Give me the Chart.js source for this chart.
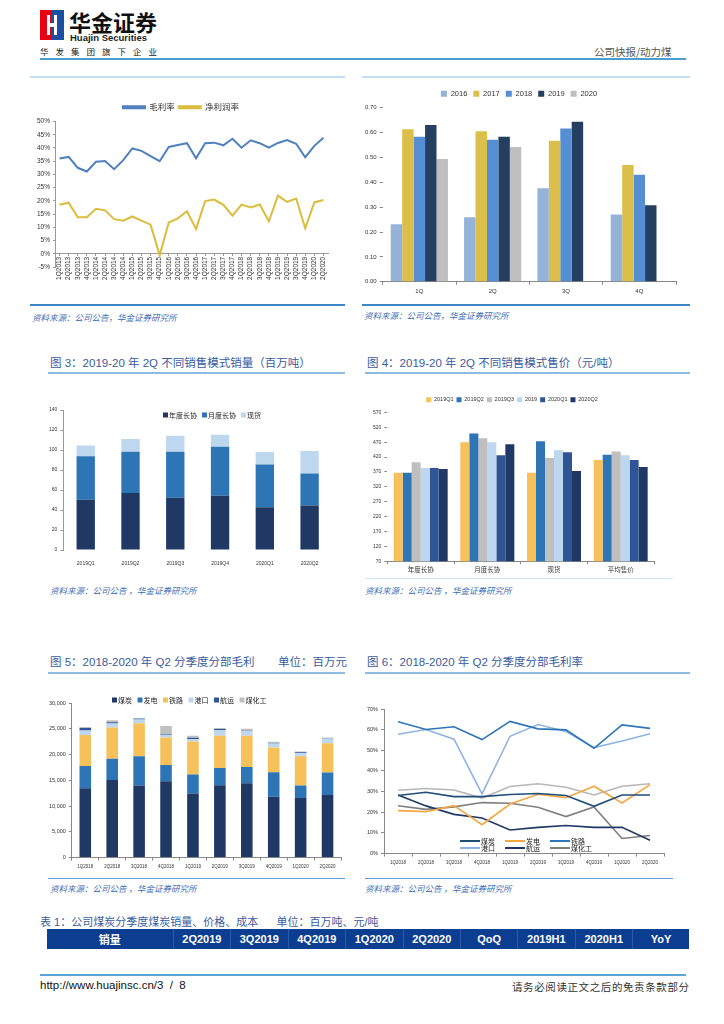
<!DOCTYPE html>
<html>
<head>
<meta charset="utf-8">
<script src="https://cdn.jsdelivr.net/npm/chart.js@4.4.0/dist/chart.umd.min.js"></script>
<style>
body{margin:0;width:724px;height:1024px;position:relative;background:#fff;overflow:hidden;font-family:"Liberation Sans","Noto Sans CJK SC",sans-serif}
.abs{position:absolute}
.title{position:absolute;font-size:11.5px;color:#3a5b9e;font-family:"Liberation Sans","Noto Sans CJK SC",sans-serif;white-space:nowrap}
.uline{position:absolute;height:2px;background:#8dbbe2}
.src{position:absolute;font-size:8.5px;color:#3e6db5;font-style:italic;font-family:"Noto Sans CJK SC",sans-serif;white-space:nowrap}
.box{position:absolute}
table{border-collapse:collapse}
td{color:#fff;font-weight:bold;font-size:11px;text-align:center;padding:0;border-right:1px solid #2c5aa8}
</style>
</head>
<body>
<!-- header -->
<div class="abs" style="left:40px;top:10px;width:12px;height:30px;background:#e60012"></div>
<div class="abs" style="left:52px;top:10px;width:12px;height:30px;background:#1d4fa0"></div>
<div class="abs" style="left:47px;top:15px;width:3px;height:20px;background:#fff"></div>
<div class="abs" style="left:54px;top:15px;width:3px;height:20px;background:#fff"></div>
<div class="abs" style="left:50px;top:23px;width:4px;height:4px;background:#fff"></div>
<div class="abs" style="left:69px;top:10px;font-size:22px;line-height:22px;font-weight:bold;color:#111;font-family:'Noto Sans CJK SC'">华金证券</div>
<div class="abs" style="left:70px;top:33px;font-size:9.5px;line-height:10px;font-weight:bold;color:#222">Huajin Securities</div>
<div class="abs" style="left:40px;top:45px;font-size:8.5px;color:#222;font-family:'Noto Sans CJK SC';letter-spacing:7px">华发集团旗下企业</div>
<div class="abs" style="left:594px;top:44px;font-size:10.5px;color:#555;font-family:'Noto Sans CJK SC'">公司快报/动力煤</div>
<div class="abs" style="left:40px;top:58px;width:646px;height:2px;background:#4a9fd0"></div>

<!-- row 1 -->
<div class="abs" style="left:30px;top:76px;width:315px;height:2px;background:#c3ddf1"></div>
<div class="abs" style="left:362px;top:76px;width:328px;height:2px;background:#c3ddf1"></div>
<div class="box" style="left:30px;top:99px;width:310px;height:194px"><canvas id="c1"></canvas></div>
<div class="box" style="left:362px;top:84px;width:322px;height:214px"><canvas id="c2"></canvas></div>
<div class="abs" style="left:30px;top:304px;width:315px;height:2px;background:#3f86c8"></div>
<div class="abs" style="left:362px;top:304px;width:328px;height:2px;background:#3f86c8"></div>
<div class="src" style="left:32px;top:311px">资料来源：公司公告，华金证券研究所</div>
<div class="src" style="left:364px;top:309px">资料来源：公司公告，华金证券研究所</div>

<!-- row 2 -->
<div class="title" style="left:50px;top:354px">图 3：2019-20 年 2Q 不同销售模式销量（百万吨）</div>
<div class="title" style="left:367px;top:354px">图 4：2019-20 年 2Q 不同销售模式售价（元/吨）</div>
<div class="uline" style="left:48px;top:372px;width:297px"></div>
<div class="uline" style="left:365px;top:372px;width:325px"></div>
<div class="box" style="left:40px;top:404px;width:300px;height:166px"><canvas id="c3"></canvas></div>
<div class="box" style="left:362px;top:394px;width:320px;height:180px"><canvas id="c4"></canvas></div>
<div class="abs" style="left:365px;top:578px;width:308px;height:1px;background:#cfe2f3"></div>
<div class="src" style="left:50px;top:584px">资料来源：公司公告 ，华金证券研究所</div>
<div class="src" style="left:365px;top:584px">资料来源：公司公告 ，华金证券研究所</div>

<!-- row 3 -->
<div class="title" style="left:50px;top:653px">图 5：2018-2020 年 Q2 分季度分部毛利</div>
<div class="title" style="left:278px;top:653px">单位：百万元</div>
<div class="title" style="left:367px;top:653px">图 6：2018-2020 年 Q2 分季度分部毛利率</div>
<div class="uline" style="left:48px;top:672px;width:297px"></div>
<div class="uline" style="left:365px;top:672px;width:325px"></div>
<div class="box" style="left:40px;top:694px;width:305px;height:178px"><canvas id="c5"></canvas></div>
<div class="box" style="left:362px;top:700px;width:310px;height:168px"><canvas id="c6"></canvas></div>
<div class="abs" style="left:48px;top:878px;width:297px;height:1px;background:#5b9bd5"></div>
<div class="abs" style="left:365px;top:878px;width:308px;height:1px;background:#5b9bd5"></div>
<div class="src" style="left:50px;top:882px">资料来源：公司公告 ，华金证券研究所</div>
<div class="src" style="left:365px;top:882px">资料来源：公司公告 ，华金证券研究所</div>

<!-- table -->
<div class="title" style="left:40px;top:913px;font-size:11px">表 1：公司煤炭分季度煤炭销量、价格、成本&nbsp;&nbsp;&nbsp;&nbsp;&nbsp;&nbsp;单位：百万吨、元/吨</div>
<table class="abs" style="left:47px;top:929px;width:642px;height:20px;background:#0b3d91">
<tr id="thead"></tr>
</table>

<!-- footer -->
<div class="abs" style="left:40px;top:974px;width:646px;height:2px;background:#5aa5d8"></div>
<div class="abs" style="left:40px;top:979px;font-size:11.5px;color:#111">http://www.huajinsc.cn/3&nbsp;&nbsp;/&nbsp;&nbsp;8</div>
<div class="abs" style="left:512px;top:979px;font-size:10.5px;color:#333;font-family:'Noto Sans CJK SC';letter-spacing:0.6px">请务必阅读正文之后的免责条款部分</div>

<script>
// chart 1: margins
const quarters1 = ["1Q2013","2Q2013","3Q2013","4Q2013","1Q2014","2Q2014","3Q2014","4Q2014","1Q2015","2Q2015","3Q2015","4Q2015","1Q2016","2Q2016","3Q2016","4Q2016","1Q2017","2Q2017","3Q2017","4Q2017","1Q2018","2Q2018","3Q2018","4Q2018","1Q2019","2Q2019","3Q2019","4Q2019","1Q2020","2Q2020"];
const grossMargin = [36.0,36.6,32.5,31.1,34.8,35.1,32.0,35.4,39.8,38.9,36.9,35.0,40.4,41.1,41.8,36.1,41.8,42.0,41.0,43.5,40.1,42.9,41.8,40.1,41.9,43.0,41.6,36.5,40.8,43.9];
const netMargin = [18.5,19.3,13.8,13.8,17.0,16.4,13.1,12.5,14.1,12.5,11.0,-0.6,11.8,13.4,16.1,9.4,19.9,20.5,18.5,14.4,18.6,17.5,18.6,12.3,22.0,19.6,20.9,9.6,19.4,20.3];

// chart 2
const quarters2 = ["1Q","2Q","3Q","4Q"];
const years2 = ["2016","2017","2018","2019","2020"];
const vals2016 = [0.231,0.259,0.376,0.270];
const vals2017 = [0.613,0.605,0.566,0.469];
const vals2018 = [0.583,0.570,0.616,0.430];
const vals2019 = [0.630,0.583,0.643,0.307];
const vals2020 = [0.493,0.541,null,null];

// chart 3: volume by sales mode
const periods3 = ["2019Q1","2019Q2","2019Q3","2019Q4","2020Q1","2020Q2"];
const annualVol = [50.3,57.0,52.3,54.3,42.7,44.4];
const monthlyVol = [43.4,41.3,46.0,49.0,42.7,32.1];
const spotVol = [10.9,12.6,15.9,11.9,12.6,22.5];

// chart 4: price by sales mode
const modes4 = ["年度长协","月度长协","现货","平均售价"];
const series4 = ["2019Q1","2019Q2","2019Q3","2019","2020Q1","2020Q2"];
const price19q1 = [367,470,367,410];
const price19q2 = [367,499.5,473,427.7];
const price19q3 = [403,483,416.7,438.7];
const price19q4 = [383.5,470,443,426.6];
const price20q1 = [383.5,426.6,436.5,410];
const price20q2 = [380,463,373.6,387];

// chart 5: segment gross profit
const quarters5 = ["1Q2018","2Q2018","3Q2018","4Q2018","1Q2019","2Q2019","3Q2019","4Q2019","1Q2020","2Q2020"];
const gpCoal = [13435,15039,13970,14838,12432,14036,14437,11831,11563,12165];
const gpPower = [4345,4144,5681,3142,3676,3342,3142,4745,2407,4344];
const gpRail = [6015,6083,6417,5347,6417,6283,6082,4813,5681,5682];
const gpPort = [869,735,735,535,468,1070,869,735,602,869];
const gpShip = [468,267,201,134,267,200,67,134,201,67];
const gpChem = [200,401,0,1537,401,201,401,200,133,200];

// chart 6: segment gross margin
const gmCoal = [28.1,29.7,27.6,27.6,28.6,29.1,28.1,22.9,28.4,28.4];
const gmPower = [20.8,20.3,23.2,14.0,24.0,28.7,27.1,32.6,24.5,33.4];
const gmRail = [63.8,60.1,61.4,55.2,64.0,60.4,59.9,51.0,62.3,60.6];
const gmPort = [57.8,60.1,55.4,28.9,56.8,62.5,59.1,51.3,54.5,58.0];
const gmShip = [28.4,23.1,19.0,17.2,11.4,12.7,13.6,12.7,12.7,6.5];
const gmChem = [23.2,21.4,22.6,24.7,24.4,22.4,17.9,22.6,7.3,8.8];
const gmTotal = [30.7,31.5,30.8,26.9,32.5,33.8,32.1,28.4,32.6,33.8];

const tableHead = ["销量","2Q2019","3Q2019","4Q2019","1Q2020","2Q2020","QoQ","2019H1","2020H1","YoY"];

let tr = document.getElementById("thead");
for (let i = 0; i < tableHead.length; i++) {
     let td = document.createElement("td");
     td.innerHTML = tableHead[i];
     td.style.width = i == 0 ? "129px" : "57px";
     if (i == tableHead.length - 1) td.style.borderRight = "none";
     tr.appendChild(td);
}

Chart.defaults.font.family = "'Liberation Sans','Noto Sans CJK SC',sans-serif";
Chart.defaults.color = "#333";
Chart.defaults.animation = false;
Chart.defaults.maintainAspectRatio = false;
Chart.defaults.plugins.tooltip.enabled = false;

// legend drawn inside plot (charts 3, 5 and 6)
const innerLegend = {
     id: "innerLegend",
     afterDraw(chart, args, opts) {
          const ctx = chart.ctx;
          const items = chart.data.datasets.filter(d => !d.noLegend);
          ctx.save();
          ctx.font = (opts.size || 7) + "px 'Noto Sans CJK SC'";
          ctx.textBaseline = "middle";
          items.forEach((d, i) => {
               let col = i % opts.cols;
               let row = Math.floor(i / opts.cols);
               let x = opts.x + col * opts.colW;
               let y = opts.y + row * opts.rowH;
               if (opts.kind == "line") {
                    ctx.strokeStyle = d.borderColor;
                    ctx.lineWidth = 2;
                    ctx.beginPath();
                    ctx.moveTo(x, y);
                    ctx.lineTo(x + 20, y);
                    ctx.stroke();
                    ctx.fillStyle = "#222";
                    ctx.fillText(d.label, x + 21, y);
               } else {
                    ctx.fillStyle = d.backgroundColor;
                    ctx.fillRect(x, y - 2.5, 5, 5);
                    ctx.fillStyle = "#222";
                    ctx.fillText(d.label, x + 6, y);
               }
          });
          ctx.restore();
     }
};

const smallFont = {size: 6};

// chart 1
new Chart(document.getElementById("c1"), {
     type: "line",
     data: {
          labels: quarters1,
          datasets: [
               {label: "毛利率", data: grossMargin, borderColor: "#4f81bd", backgroundColor: "#4f81bd", borderWidth: 2, pointRadius: 0},
               {label: "净利润率", data: netMargin, borderColor: "#dcbc3c", backgroundColor: "#dcbc3c", borderWidth: 2, pointRadius: 0}
          ]
     },
     options: {
          layout: {padding: {right: 12, left: 4, bottom: 26}},
          plugins: {
               legend: {labels: {boxWidth: 22, boxHeight: 2, font: {size: 8.5}, color: "#333", padding: 4}}
          },
          scales: {
               x: {
                    position: {y: 0},
                    offset: true,
                    grid: {drawOnChartArea: false, tickLength: 2, color: "#999"},
                    border: {color: "#999"},
                    ticks: {font: {size: 6.5}, minRotation: 90, maxRotation: 90, autoSkip: false, padding: 1}
               },
               y: {
                    min: -5, max: 50,
                    grid: {drawOnChartArea: false, tickLength: 2, color: "#999"},
                    border: {color: "#999"},
                    ticks: {stepSize: 5, font: {size: 6.5}, callback: v => v + "%"}
               }
          }
     }
});

// chart 2
const colors2 = ["#95b3d7", "#dcbf4b", "#558ed5", "#243f60", "#bfbfbf"];
const data2 = [vals2016, vals2017, vals2018, vals2019, vals2020];
new Chart(document.getElementById("c2"), {
     type: "bar",
     data: {
          labels: quarters2,
          datasets: years2.map((y, i) => ({label: y, data: data2[i], backgroundColor: colors2[i], categoryPercentage: 0.78, barPercentage: 1}))
     },
     options: {
          layout: {padding: {right: 8}},
          plugins: {
               legend: {labels: {boxWidth: 6, boxHeight: 6, font: {size: 7.5}, padding: 6}}
          },
          scales: {
               x: {
                    grid: {drawOnChartArea: false, tickLength: 3, color: "#888"},
                    border: {color: "#888"},
                    ticks: {font: smallFont}
               },
               y: {
                    min: 0, max: 0.7,
                    grid: {drawOnChartArea: false, tickLength: 3, color: "#888"},
                    border: {display: false},
                    ticks: {stepSize: 0.1, font: smallFont, callback: v => v.toFixed(2)}
               }
          }
     }
});

// chart 3
const colors3 = ["#1f3864", "#2e75b6", "#bdd7ee"];
const labels3 = ["年度长协", "月度长协", "现货"];
const data3 = [annualVol, monthlyVol, spotVol];
new Chart(document.getElementById("c3"), {
     type: "bar",
     data: {
          labels: periods3,
          datasets: labels3.map((l, i) => ({label: l, data: data3[i], backgroundColor: colors3[i], categoryPercentage: 0.41, barPercentage: 1}))
     },
     plugins: [innerLegend],
     options: {
          layout: {padding: {top: 6, right: 8, left: 6}},
          plugins: {
               legend: {display: false},
               innerLegend: {x: 123, y: 11, cols: 3, colW: 39, rowH: 8, kind: "box", size: 7}
          },
          scales: {
               x: {
                    stacked: true,
                    grid: {display: false},
                    border: {display: false},
                    ticks: {font: {size: 5}}
               },
               y: {
                    stacked: true,
                    min: 0, max: 140,
                    grid: {drawOnChartArea: false, tickLength: 3, color: "#999"},
                    border: {color: "#999"},
                    ticks: {stepSize: 20, font: {size: 5}}
               }
          }
     }
});

// chart 4
const colors4 = ["#f6c05a", "#2e75b6", "#bfbfbf", "#bdd7ee", "#2f5597", "#1f3864"];
const data4 = [price19q1, price19q2, price19q3, price19q4, price20q1, price20q2];
new Chart(document.getElementById("c4"), {
     type: "bar",
     data: {
          labels: modes4,
          datasets: series4.map((s, i) => ({label: s, data: data4[i], backgroundColor: colors4[i], categoryPercentage: 0.81, barPercentage: 1}))
     },
     options: {
          layout: {padding: {right: 28, left: 8}},
          plugins: {
               legend: {labels: {boxWidth: 5, boxHeight: 5, font: {size: 5.5}, padding: 3}}
          },
          scales: {
               x: {
                    grid: {drawOnChartArea: false, tickLength: 3, color: "#888"},
                    border: {color: "#888"},
                    ticks: {font: {size: 6.5, family: "'Noto Sans CJK SC'"}, padding: 1}
               },
               y: {
                    min: 70, max: 570,
                    grid: {drawOnChartArea: false, tickLength: 3, color: "#888"},
                    border: {display: false},
                    ticks: {stepSize: 50, font: {size: 5}}
               }
          }
     }
});

// chart 5
const colors5 = ["#1f3864", "#2e75b6", "#f6c05a", "#bdd7ee", "#2f5597", "#bfbfbf"];
const labels5 = ["煤炭", "发电", "铁路", "港口", "航运", "煤化工"];
const data5 = [gpCoal, gpPower, gpRail, gpPort, gpShip, gpChem];
new Chart(document.getElementById("c5"), {
     type: "bar",
     data: {
          labels: quarters5,
          datasets: labels5.map((l, i) => ({label: l, data: data5[i], backgroundColor: colors5[i], categoryPercentage: 0.43, barPercentage: 1}))
     },
     plugins: [innerLegend],
     options: {
          layout: {padding: {top: 9, right: 4, left: 6}},
          plugins: {
               legend: {display: false},
               innerLegend: {x: 72, y: 6, cols: 6, colW: 25.5, rowH: 8, kind: "box", size: 7}
          },
          scales: {
               x: {
                    stacked: true,
                    grid: {drawOnChartArea: false, tickLength: 3, color: "#888"},
                    border: {color: "#888"},
                    ticks: {font: {size: 4.5}, autoSkip: false, maxRotation: 0}
               },
               y: {
                    stacked: true,
                    min: 0, max: 30000,
                    grid: {drawOnChartArea: false, tickLength: 3, color: "#888"},
                    border: {color: "#888"},
                    ticks: {stepSize: 5000, font: {size: 5.5}, callback: v => v.toLocaleString("en-US")}
               }
          }
     }
});

// chart 6
const labels6 = ["煤炭", "发电", "铁路", "港口", "航运", "煤化工"];
const colors6 = ["#1f4e79", "#f5a742", "#2e75b6", "#8eb4e3", "#1f3864", "#7f7f7f"];
const data6 = [gmCoal, gmPower, gmRail, gmPort, gmShip, gmChem];
const ds6 = labels6.map((l, i) => ({label: l, data: data6[i], borderColor: colors6[i], borderWidth: 1.6, pointRadius: 0}));
ds6.push({label: "综合", data: gmTotal, borderColor: "#b7b7b7", borderWidth: 1.6, pointRadius: 0, noLegend: true});
new Chart(document.getElementById("c6"), {
     type: "line",
     data: {labels: quarters5, datasets: ds6},
     plugins: [innerLegend],
     options: {
          layout: {padding: {top: 9, right: 8, left: 2}},
          plugins: {
               legend: {display: false},
               innerLegend: {x: 98, y: 141, cols: 3, colW: 45, rowH: 7, kind: "line", size: 7}
          },
          scales: {
               x: {
                    offset: true,
                    grid: {drawOnChartArea: false, tickLength: 3, color: "#888", offset: true},
                    border: {color: "#888"},
                    ticks: {font: {size: 4.5}, autoSkip: false, maxRotation: 0}
               },
               y: {
                    min: 0, max: 70,
                    grid: {drawOnChartArea: false, tickLength: 3, color: "#888"},
                    border: {color: "#888"},
                    ticks: {stepSize: 10, font: {size: 5.5}, callback: v => v + "%"}
               }
          }
     }
});
</script>
</body>
</html>
